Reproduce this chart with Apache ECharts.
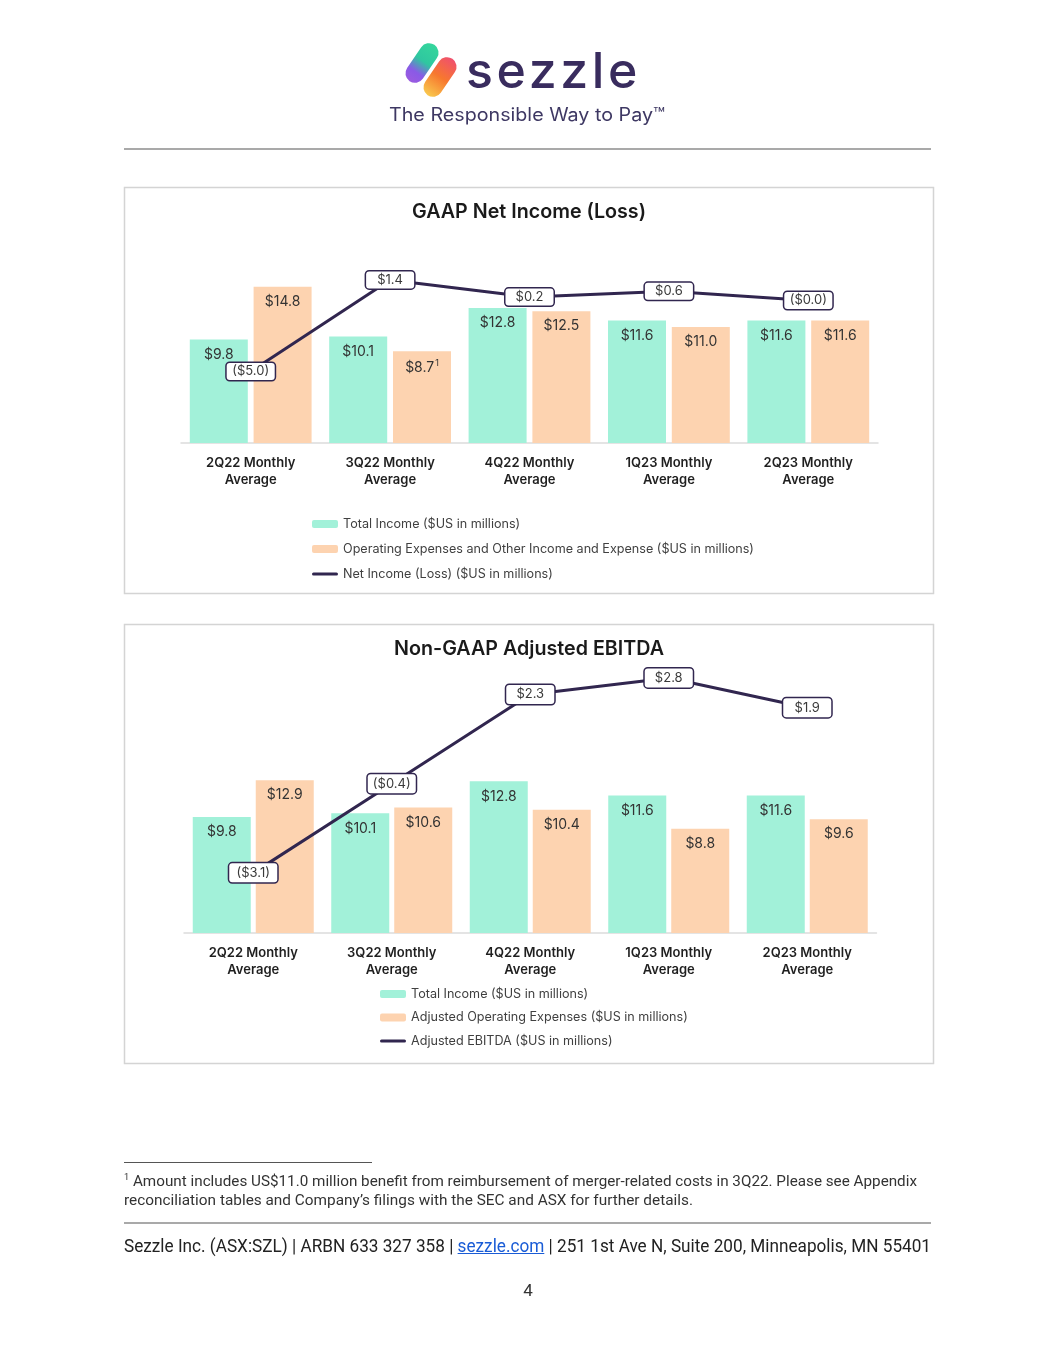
<!DOCTYPE html>
<html>
<head>
<meta charset="utf-8">
<script src="https://cdn.jsdelivr.net/npm/echarts@6/dist/echarts.min.js"></script>
<style>
html,body{margin:0;padding:0;background:#fff;}
#page{position:relative;width:1055px;height:1365px;overflow:hidden;background:#fff;}
#chart{position:absolute;left:0;top:0;width:1055px;height:1365px;}
.t{position:absolute;white-space:nowrap;display:inline-block;}
#logo{font-family:Inter,sans-serif;font-weight:500;font-size:50px;line-height:50px;color:#392C5E;}
#tag{font-family:Inter,sans-serif;font-size:18px;line-height:20px;color:#3E3863;}
.fn{font-family:Roboto,sans-serif;font-size:15px;line-height:18px;color:#333;}
#foot{font-family:Roboto,sans-serif;font-size:17.5px;line-height:20px;color:#222;}
#foot a{color:#1a5cd6;text-decoration:underline;}
#pg{font-family:Roboto,sans-serif;font-size:17px;line-height:20px;color:#333;}
sup{font-size:9px;vertical-align:6px;line-height:0;}
</style>
</head>
<body>
<div id="page">
  <div id="chart"></div>
  <div class="t" id="logo">sezzle</div>
  <div class="t" id="tag">The Responsible Way to Pay™</div>
  <div class="t fn" id="fn1"><sup>1</sup> Amount includes US$11.0 million benefit from reimbursement of merger-related costs in 3Q22. Please see Appendix</div>
  <div class="t fn" id="fn2">reconciliation tables and Company’s filings with the SEC and ASX for further details.</div>
  <div class="t" id="foot">Sezzle Inc. (ASX:SZL) | ARBN 633 327 358 | <a>sezzle.com</a> | 251 1st Ave N, Suite 200, Minneapolis, MN 55401</div>
  <div class="t" id="pg">4</div>
</div>
<script>
// ---------- data ----------
const categories = ['2Q22 Monthly\nAverage', '3Q22 Monthly\nAverage', '4Q22 Monthly\nAverage', '1Q23 Monthly\nAverage', '2Q23 Monthly\nAverage'];

const gaapTotalIncome = [9.8, 10.1, 12.8, 11.6, 11.6];
const gaapOpex = [14.8, 8.7, 12.5, 11.0, 11.6];
const gaapOpexNotes = ['', '1', '', '', ''];
const gaapNetIncome = [-5.0, 1.4, 0.2, 0.6, -0.04];

const ebitdaTotalIncome = [9.8, 10.1, 12.8, 11.6, 11.6];
const ebitdaAdjOpex = [12.9, 10.6, 10.4, 8.8, 9.6];
const adjEbitda = [-3.1, -0.4, 2.3, 2.8, 1.9];

const nameTotal = 'Total Income ($US in millions)';
const nameOpex = 'Operating Expenses and Other Income and Expense ($US in millions)';
const nameNet = 'Net Income (Loss) ($US in millions)';
const nameAdjOpex = 'Adjusted Operating Expenses ($US in millions)';
const nameEbitda = 'Adjusted EBITDA ($US in millions)';

// ---------- styles ----------
const GREEN = '#A2F1D9';
const ORANGE = '#FDD3B0';
const LINE = '#31264F';
const FONT = 'Inter, sans-serif';
const lineIcon = 'path://M1.5,0H24.5A1.5,1.5 0 0 1 24.5,3H1.5A1.5,1.5 0 0 1 1.5,0Z';

const money = v => '$' + v.toFixed(1);
const signed = v => v < 0 ? '($' + Math.abs(v).toFixed(1) + ')' : '$' + v.toFixed(1);

const barLabel = {
  show: true, position: 'insideTop', distance: 8, fontSize: 14, color: '#333', fontFamily: FONT,
  formatter: p => money(p.value)
};
function lineLabel(padV) {
  return {
    show: true, position: 'inside', fontSize: 13, color: '#3a3a3a', fontFamily: FONT,
    backgroundColor: '#fff', borderColor: LINE, borderWidth: 1.5, borderRadius: 3,
    width: 44, align: 'center', lineHeight: 13, padding: [padV, 2],
    formatter: p => signed(p.value)
  };
}
const catLabel = { fontSize: 13, fontWeight: 600, color: '#1f1f1f', lineHeight: 17, margin: 12, fontFamily: FONT };
const axisLine = { lineStyle: { color: '#dcdcdc', width: 1.5 } };
const legendText = { fontSize: 12.6, color: '#404040', lineHeight: 14, fontFamily: FONT };

const chart = echarts.init(document.getElementById('chart'), null, { renderer: 'canvas' });

const option = {
  animation: false,
  textStyle: { fontFamily: FONT },
  graphic: [
    { type: 'rect', shape: { x: 124, y: 148, width: 807, height: 2 }, style: { fill: '#a9a9a9' } },
    { type: 'rect', shape: { x: 124.5, y: 187.5, width: 809, height: 406 }, style: { fill: 'none', stroke: '#d4d4d4', lineWidth: 1.5 } },
    { type: 'rect', shape: { x: 124.5, y: 624.5, width: 809, height: 439 }, style: { fill: 'none', stroke: '#d4d4d4', lineWidth: 1.5 } },
    { type: 'rect', shape: { x: 124, y: 1162, width: 248, height: 1 }, style: { fill: '#555' } },
    { type: 'rect', shape: { x: 124, y: 1222, width: 807, height: 2 }, style: { fill: '#a9a9a9' } },
    { type: 'text', x: 529, y: 212, style: { text: 'GAAP Net Income (Loss)', align: 'center', verticalAlign: 'middle', font: '600 19.7px Inter, sans-serif', fill: '#1a1a1a' } },
    { type: 'text', x: 529, y: 649, style: { text: 'Non-GAAP Adjusted EBITDA', align: 'center', verticalAlign: 'middle', font: '600 19.7px Inter, sans-serif', fill: '#1a1a1a' } },
    { type: 'rect', x: 440, y: 77, rotation: -0.6, shape: { x: -9.5, y: -22, width: 19, height: 44, r: 9.5 },
      style: { fill: new echarts.graphic.LinearGradient(0, 0, 0, 1, [{ offset: 0, color: '#F0506E' }, { offset: 0.5, color: '#F7782E' }, { offset: 1, color: '#F9C84E' }]) } },
    { type: 'rect', x: 422, y: 63, rotation: -0.6, shape: { x: -9.5, y: -22, width: 19, height: 44, r: 9.5 },
      style: { fill: new echarts.graphic.LinearGradient(0, 0, 0, 1, [{ offset: 0, color: '#35D69C' }, { offset: 0.45, color: '#2FC7A0' }, { offset: 0.75, color: '#8A5AE6' }, { offset: 1, color: '#9B5BE0' }]) } }
  ],
  grid: [
    { left: 181, top: 232, width: 697, height: 211 },
    { left: 184, top: 670, width: 692.5, height: 263 }
  ],
  xAxis: [
    { gridIndex: 0, type: 'category', data: categories, axisLine, axisTick: { show: false }, axisLabel: catLabel },
    { gridIndex: 1, type: 'category', data: categories, axisLine, axisTick: { show: false }, axisLabel: catLabel }
  ],
  yAxis: [
    { gridIndex: 0, type: 'value', min: 0, max: 20, show: false },
    { gridIndex: 0, type: 'value', min: -10, max: 4.75, show: false },
    { gridIndex: 1, type: 'value', min: 0, max: 22.2, show: false },
    { gridIndex: 1, type: 'value', min: -4.92, max: 3.04, show: false }
  ],
  legend: [
    {
      data: [{ name: nameTotal }, { name: nameOpex }, { name: nameNet, icon: lineIcon }],
      orient: 'vertical', left: 312, top: 517, padding: 0, itemWidth: 26, itemHeight: 8, itemGap: 11,
      selectedMode: false, textStyle: legendText
    },
    {
      data: [{ name: nameTotal }, { name: nameAdjOpex }, { name: nameEbitda, icon: lineIcon }],
      orient: 'vertical', left: 380, top: 987, padding: 0, itemWidth: 26, itemHeight: 8, itemGap: 9.5,
      selectedMode: false, textStyle: legendText
    }
  ],
  series: [
    { name: nameTotal, type: 'bar', xAxisIndex: 0, yAxisIndex: 0, data: gaapTotalIncome, barWidth: 58, barGap: '10%',
      itemStyle: { color: GREEN }, label: barLabel, z: 2 },
    { name: nameOpex, type: 'bar', xAxisIndex: 0, yAxisIndex: 0, data: gaapOpex, barWidth: 58, barGap: '10%',
      itemStyle: { color: ORANGE }, z: 2,
      label: Object.assign({}, barLabel, {
        formatter: p => gaapOpexNotes[p.dataIndex] ? '{v|' + money(p.value) + '}{sup|' + gaapOpexNotes[p.dataIndex] + '}' : money(p.value),
        rich: { v: { fontSize: 14, color: '#333', fontFamily: FONT }, sup: { fontSize: 9, color: '#333', padding: [0, 0, 9, 1], fontFamily: FONT } }
      }) },
    { name: nameNet, type: 'line', xAxisIndex: 0, yAxisIndex: 1, data: gaapNetIncome, symbol: 'circle', symbolSize: 3,
      lineStyle: { color: LINE, width: 3 }, itemStyle: { color: LINE }, z: 5, label: lineLabel(2) },

    { name: nameTotal, type: 'bar', xAxisIndex: 1, yAxisIndex: 2, data: ebitdaTotalIncome, barWidth: 58, barGap: '8.6%',
      itemStyle: { color: GREEN }, label: barLabel, z: 2 },
    { name: nameAdjOpex, type: 'bar', xAxisIndex: 1, yAxisIndex: 2, data: ebitdaAdjOpex, barWidth: 58, barGap: '8.6%',
      itemStyle: { color: ORANGE }, label: barLabel, z: 2 },
    { name: nameEbitda, type: 'line', xAxisIndex: 1, yAxisIndex: 3, data: adjEbitda, symbol: 'circle', symbolSize: 3,
      lineStyle: { color: LINE, width: 3 }, itemStyle: { color: LINE }, z: 5, label: lineLabel(3) }
  ]
};
chart.setOption(option);

// ---------- page text placement ----------
function place(id, opts) {
  const el = document.getElementById(id);
  const r = el.getBoundingClientRect();
  let w = r.width;
  if (opts.width && opts.mode === 'ls') {
    const n = el.textContent.length;
    el.style.letterSpacing = ((opts.width - w) / n) + 'px';
    w = opts.width;
  } else if (opts.width) {
    el.style.transformOrigin = 'left center';
    el.style.transform = 'scaleX(' + (opts.width / w) + ')';
    w = opts.width;
  }
  const left = opts.cx !== undefined ? opts.cx - w / 2 : opts.left;
  el.style.left = left + 'px';
  el.style.top = (opts.cy - el.offsetHeight / 2) + 'px';
}
place('logo', { left: 466, cy: 70, width: 175, mode: 'ls' });
place('tag', { cx: 527, cy: 115, width: 276 });
place('fn1', { left: 124, cy: 1181, width: 793 });
place('fn2', { left: 124, cy: 1200, width: 569 });
place('foot', { left: 124, cy: 1246, width: 807 });
place('pg', { cx: 528, cy: 1290 });
</script>
</body>
</html>
